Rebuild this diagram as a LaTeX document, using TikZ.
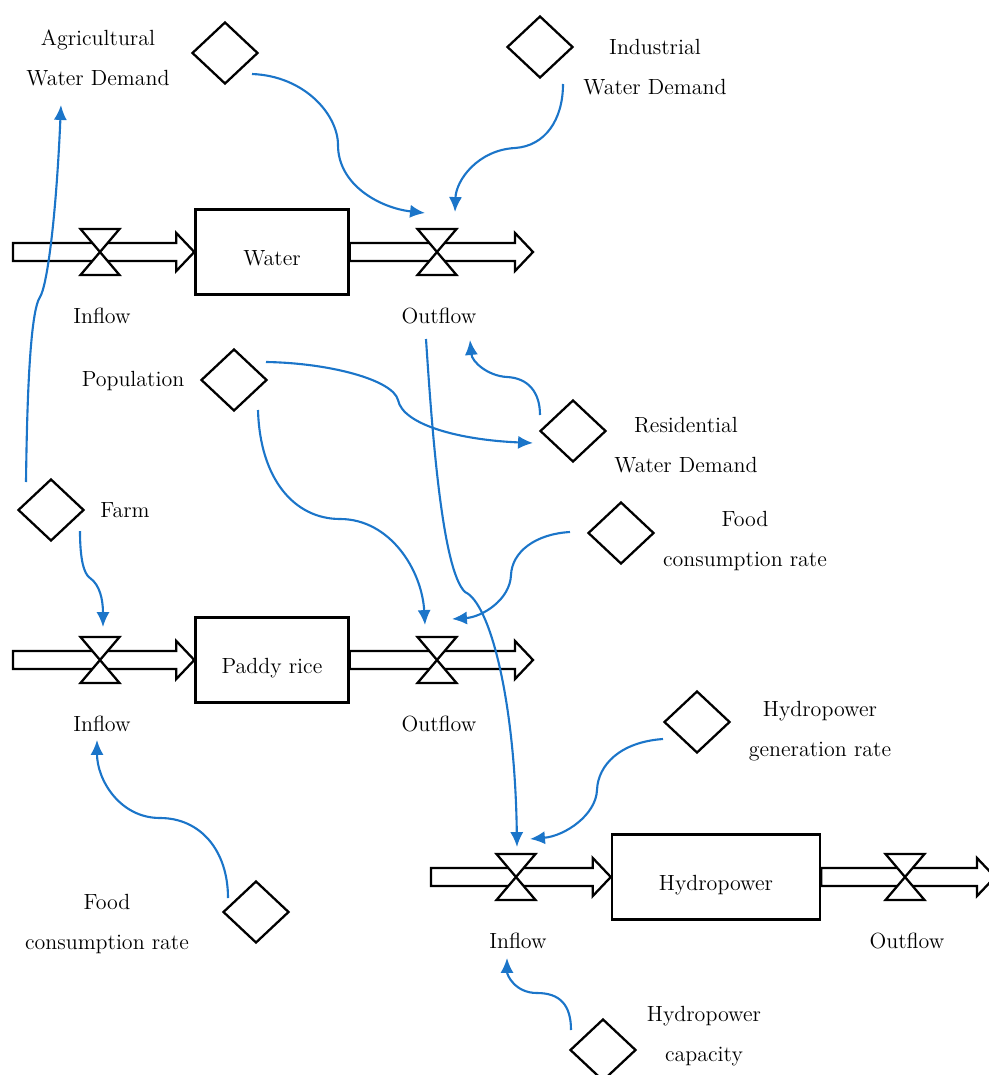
\documentclass[tikz,border=0pt]{standalone}
\usepackage{tikz}
\usetikzlibrary{shapes.geometric, arrows.meta, calc}

\definecolor{linkblue}{RGB}{27,117,201}

\tikzset{
    stock/.style={draw=black, line width=1.4pt, minimum width=3.06cm, minimum height=1.7cm,
        inner sep=0pt, text height=15pt, text depth=0pt},
    aux/.style={draw, diamond, line width=1.3pt, minimum width=1.32cm,
        minimum height=1.24cm, inner sep=0pt},
    valve/.style={minimum width=0.78cm, minimum height=0.92cm, inner sep=0pt, outer sep=0pt},
    lbl/.style={align=center},
    pipeline/.style={draw, line width=1.3pt, fill=white},
    link/.style={draw=linkblue, line width=1.2pt, -{Latex[length=8.5pt, width=7.5pt]}},
}

% open double pipe with arrow head, from #1 to #2 (horizontal)
\newcommand{\flowpipe}[2]{%
    \draw [pipeline] let \p1=(#1), \p2=(#2) in
        (\x1,\y1+0.18cm) -- (\x2-0.36cm,\y1+0.18cm) -- (\x2-0.36cm,\y1+0.38cm)
        -- (\x2,\y1) -- (\x2-0.36cm,\y1-0.38cm) -- (\x2-0.36cm,\y1-0.18cm)
        -- (\x1,\y1-0.18cm) -- cycle;}

\begin{document}
\begin{tikzpicture}[x=0.02cm, y=-0.02cm, font=\fontsize{12.5}{23}\selectfont]
        \useasboundingbox (0,0) rectangle (988,1075);

        % stocks
        \node [stock] (water) at (272,252) {Water};
        \node [stock] (paddy) at (272,660) {Paddy rice};
        \node [stock, minimum width=4.16cm] (hydro) at (716,877) {Hydropower};

        \coordinate (wsrc) at (13,252);
        \coordinate (wsink) at (533,252);
        \coordinate (psrc) at (13,660);
        \coordinate (psink) at (533,660);
        \coordinate (hsrc) at (431,877);
        \coordinate (hsink) at (995,877);

        \flowpipe{wsrc}{water.west}
        \flowpipe{water.east}{wsink}
        \flowpipe{psrc}{paddy.west}
        \flowpipe{paddy.east}{psink}
        \flowpipe{hsrc}{hydro.west}
        \flowpipe{hydro.east}{hsink}

        % valves
        \node [valve] (win) at (100,252) {};
        \node [valve] (wout) at (437,252) {};
        \node [valve] (pin) at (100,660) {};
        \node [valve] (pout) at (437,660) {};
        \node [valve] (hin) at (516,877) {};
        \node [valve] (hout) at (905,877) {};
        \foreach \v in {win, wout, pin, pout, hin, hout}
            \draw [line width=1.3pt, fill=white] (\v.north west) -- (\v.north east)
                -- (\v.south west) -- (\v.south east) -- cycle;

        \node [lbl] (winlbl) at (102,316) {Inflow};
        \node [lbl] (woutlbl) at (439,316) {Outflow};
        \node [lbl] (pinlbl) at (102,724) {Inflow};
        \node [lbl] (poutlbl) at (439,724) {Outflow};
        \node [lbl] (hinlbl) at (518,941) {Inflow};
        \node [lbl] (houtlbl) at (907,941) {Outflow};

        % auxiliaries
        \node [aux] (agri) at (225,53) {};
        \node [lbl] (agrilbl) at (98,58) {Agricultural\\Water Demand};
        \node [aux] (indus) at (540,47) {};
        \node [lbl] (induslbl) at (655,67) {Industrial\\Water Demand};
        \node [aux] (popu) at (234,380) {};
        \node [lbl] (populbl) at (133,381) {Population};
        \node [aux] (resid) at (573,431) {};
        \node [lbl] (residlbl) at (686,445) {Residential\\Water Demand};
        \node [aux] (farm) at (51,510) {};
        \node [lbl] (farmlbl) at (125,510) {Farm};
        \node [aux] (foodr) at (621,533) {};
        \node [lbl] (foodrlbl) at (745,541) {Food\\consumption rate};
        \node [aux] (hgen) at (697,722) {};
        \node [lbl] (hgenlbl) at (820,731) {Hydropower\\generation rate};
        \node [aux] (foodl) at (256,912) {};
        \node [lbl] (foodllbl) at (107,924) {Food\\consumption rate};
        \node [aux] (hcap) at (603,1050) {};
        \node [lbl] (hcaplbl) at (704,1036) {Hydropower\\capacity};

        % links
        \draw [link] ([shift={(-25,-28)}]farm.center) .. controls (27,400) and (30,312) .. (40,297)
            .. controls (47,286) and (56,220) .. ([shift={(-37,47)}]agrilbl.center);
        \draw [link] ([shift={(27,21)}]agri.center) .. controls (305,76) and (338,115) .. (338,145)
            .. controls (338,185) and (380,208) .. ([shift={(-12,-16)}]wout.north);
        \draw [link] ([shift={(23,37)}]indus.center) .. controls (563,120) and (545,146) .. (515,148)
            .. controls (478,150) and (456,180) .. ([shift={(18,-17)}]wout.north);
        \draw [link] ([shift={(-33,-16)}]resid.center) .. controls (540,392) and (528,378) .. (507,377)
            .. controls (488,376) and (472,362) .. ([shift={(31,24)}]woutlbl.center);
        \draw [link] ([shift={(32,-18)}]popu.center) .. controls (330,363) and (393,380) .. (398,400)
            .. controls (403,425) and (460,440) .. ([shift={(-40,12)}]resid.center);
        \draw [link] ([shift={(24,30)}]popu.center) .. controls (260,480) and (295,519) .. (340,519)
            .. controls (390,519) and (422,570) .. ([shift={(-12,-12)}]pout.north);
        \draw [link] ([shift={(-13,23)}]woutlbl.center) .. controls (432,430) and (442,570) .. (465,592)
            .. controls (490,603) and (515,700) .. ([shift={(1,-7)}]hin.north);
        \draw [link] ([shift={(-51,-1)}]foodr.center) .. controls (535,534) and (512,552) .. (511,575)
            .. controls (510,600) and (482,617) .. ([shift={(15,-18)}]pout.north);
        \draw [link] ([shift={(29,21)}]farm.center) .. controls (80,560) and (84,574) .. (90,578)
            .. controls (100,585) and (103,600) .. ([shift={(3,-10)}]pin.north);
        \draw [link] ([shift={(-28,-14)}]foodl.center) .. controls (228,850) and (200,818) .. (160,818)
            .. controls (120,818) and (97,780) .. ([shift={(-5,16)}]pinlbl.center);
        \draw [link] ([shift={(-34,17)}]hgen.center) .. controls (620,742) and (598,765) .. (597,790)
            .. controls (596,815) and (565,836) .. ([shift={(14,-15)}]hin.north);
        \draw [link] ([shift={(-32,-20)}]hcap.center) .. controls (571,1005) and (560,993) .. (537,993)
            .. controls (515,993) and (507,975) .. ([shift={(-11,17)}]hinlbl.center);
    \end{tikzpicture}
\end{document}
